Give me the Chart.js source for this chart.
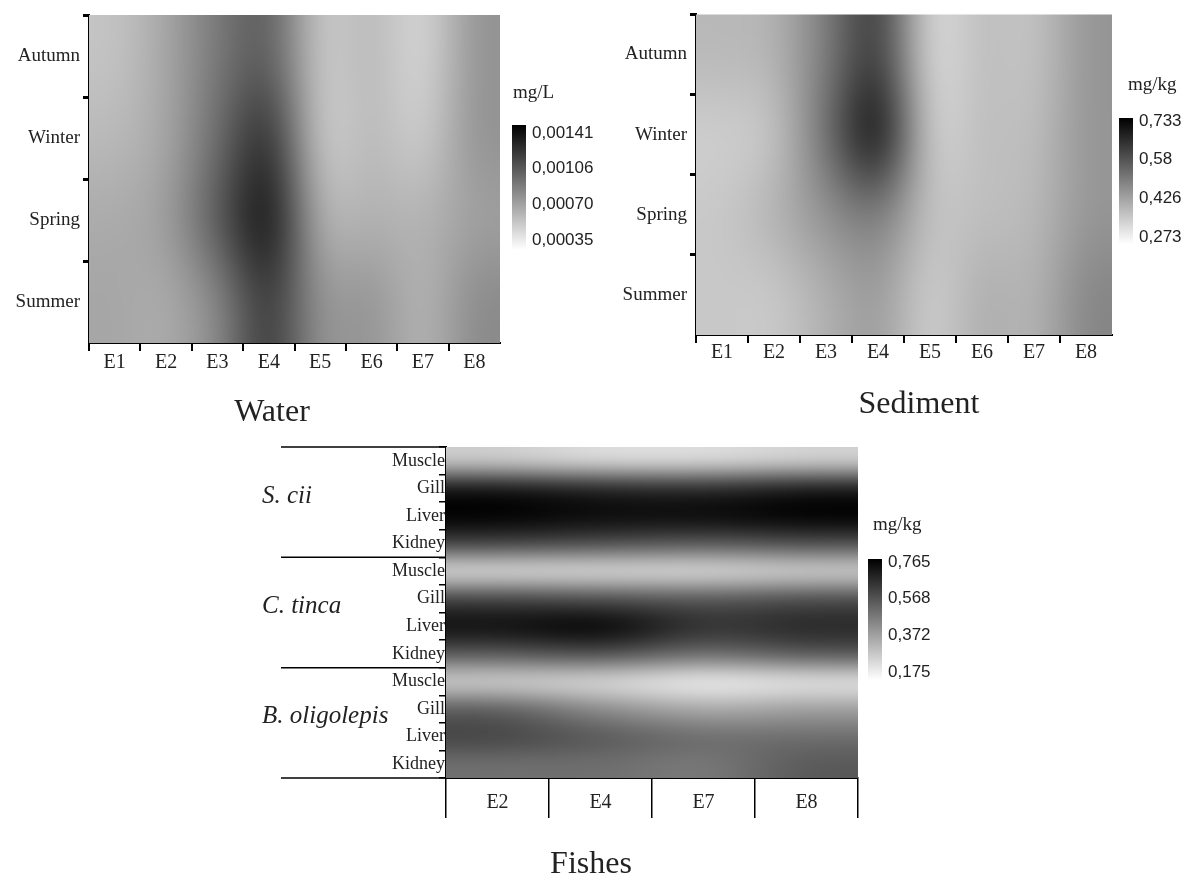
<!DOCTYPE html>
<html><head><meta charset="utf-8">
<script src="https://cdn.jsdelivr.net/npm/chart.js@4.4.1/dist/chart.umd.min.js"></script>
<style>
html,body{margin:0;padding:0;background:#fff;width:1193px;height:880px;overflow:hidden;position:relative}
.box{position:absolute}
</style></head><body>
<div class="box" style="left:0;top:0;width:600px;height:440px"><canvas id="cWater"></canvas></div>
<div class="box" style="left:600px;top:0;width:630px;height:440px"><canvas id="cSed"></canvas></div>
<div class="box" style="left:250px;top:440px;width:700px;height:450px"><canvas id="cFish"></canvas></div>
<script>
// ---------- DATA ----------
const stations = ['E1','E2','E3','E4','E5','E6','E7','E8'];
const seasons = ['Autumn','Winter','Spring','Summer'];

// Water (mg/L)
const waterAutumn = [0.00060,0.00072,0.00091,0.00103,0.00058,0.00064,0.00052,0.00079];
const waterWinter = [0.00064,0.00072,0.00096,0.00122,0.00058,0.00064,0.00056,0.00079];
const waterSpring = [0.00070,0.00075,0.00103,0.00133,0.00068,0.00068,0.00066,0.00075];
const waterSummer = [0.00072,0.00070,0.00085,0.00118,0.00079,0.00079,0.00066,0.00083];
const waterRange = [0.00035, 0.00141];
const waterTicks = ['0,00141','0,00106','0,00070','0,00035'];

// Sediment (mg/kg)
const sedAutumn = [0.399,0.408,0.510,0.630,0.345,0.390,0.381,0.462];
const sedWinter = [0.363,0.381,0.530,0.700,0.363,0.390,0.390,0.462];
const sedSpring = [0.372,0.408,0.470,0.515,0.381,0.390,0.399,0.462];
const sedSummer = [0.372,0.372,0.417,0.453,0.363,0.417,0.408,0.489];
const sedRange = [0.273, 0.733];
const sedTicks = ['0,733','0,58','0,426','0,273'];

// Fishes (mg/kg), columns = fishStations
const fishStations = ['E2','E4','E7','E8'];
const fishSpecies = ['S. cii','C. tinca','B. oligolepis'];
const fishTissues = ['Muscle','Gill','Liver','Kidney'];
const sciiMuscle  = [0.302,0.268,0.268,0.291];
const sciiGill    = [0.707,0.672,0.661,0.696];
const sciiLiver   = [0.765,0.742,0.742,0.765];
const sciiKidney  = [0.603,0.580,0.557,0.580];
const tincaMuscle = [0.268,0.268,0.268,0.291];
const tincaGill   = [0.603,0.580,0.557,0.580];
const tincaLiver  = [0.730,0.753,0.649,0.672];
const tincaKidney = [0.557,0.580,0.510,0.557];
const oligoMuscle = [0.291,0.268,0.221,0.244];
const oligoGill   = [0.545,0.441,0.372,0.395];
const oligoLiver  = [0.603,0.557,0.510,0.510];
const oligoKidney = [0.510,0.510,0.487,0.557];
const fishRange = [0.175, 0.765];
const fishTicks = ['0,765','0,568','0,372','0,175'];

// ---------- HELPERS ----------
function toCells(matrix){
  const out=[];
  matrix.forEach((row,r)=>row.forEach((v,c)=>out.push({x:c,y:r,v:v})));
  return out;
}
const SERIF = '"Liberation Serif","Times New Roman",serif';
const SANS = '"Liberation Sans",Arial,sans-serif';

const heatmapPlugin = {
  id:'heatmap',
  beforeDatasetsDraw(chart, args, opts){
    const xs = chart.scales.x, ys = chart.scales.y;
    const nx = xs.getLabels().length, ny = ys.getLabels().length;
    const data = chart.data.datasets[0].data;
    const grid = [];
    for(let r=0;r<ny;r++){ grid.push(new Array(nx).fill(0)); }
    data.forEach(d=>{ grid[d.y][d.x] = d.v; });
    const off = document.createElement('canvas');
    off.width = nx+2; off.height = ny+2;
    const octx = off.getContext('2d');
    const img = octx.createImageData(nx+2, ny+2);
    const vmin = opts.range[0], vmax = opts.range[1];
    for(let yy=0; yy<ny+2; yy++){
      for(let xx=0; xx<nx+2; xx++){
        const r = Math.min(ny-1, Math.max(0, yy-1));
        const c = Math.min(nx-1, Math.max(0, xx-1));
        let t = (grid[r][c] - vmin)/(vmax - vmin);
        t = Math.max(0, Math.min(1, t));
        const g = Math.round(255*(1-t));
        const i = (yy*(nx+2) + xx)*4;
        img.data[i]=g; img.data[i+1]=g; img.data[i+2]=g; img.data[i+3]=255;
      }
    }
    octx.putImageData(img,0,0);
    const x0 = xs.getPixelForValue(0), x1 = xs.getPixelForValue(nx-1);
    const y0 = ys.getPixelForValue(0), y1 = ys.getPixelForValue(ny-1);
    const cw = (x1-x0)/(nx-1), ch = (y1-y0)/(ny-1);
    const ctx = chart.ctx;
    ctx.save();
    ctx.beginPath();
    ctx.rect(x0-cw/2, y0-ch/2, cw*nx, ch*ny);
    ctx.clip();
    ctx.imageSmoothingEnabled = true;
    ctx.imageSmoothingQuality = 'high';
    ctx.filter = 'blur(' + (Math.min(cw,ch)*opts.soft).toFixed(1) + 'px)';
    ctx.drawImage(off, x0-cw*1.5, y0-ch*1.5, cw*(nx+2), ch*(ny+2));
    ctx.restore();
  }
};

const colorbarPlugin = {
  id:'colorbar',
  afterDraw(chart, args, o){
    const ctx = chart.ctx, R = chart.chartArea.right;
    const bx = R + o.dx;
    ctx.save();
    const grad = ctx.createLinearGradient(0, o.top, 0, o.bottom);
    grad.addColorStop(0, '#000');
    grad.addColorStop(1, '#fff');
    ctx.fillStyle = grad;
    ctx.fillRect(bx, o.top, o.w, o.bottom - o.top);
    ctx.fillStyle = '#222';
    ctx.font = '17px ' + SANS;
    ctx.textAlign = 'left'; ctx.textBaseline = 'middle';
    const n = o.labels.length;
    o.labels.forEach((s,i)=>{
      const y = o.labTop + (o.labBottom - o.labTop)*i/(n-1);
      ctx.fillText(s, bx + o.w + 6, y);
    });
    ctx.font = '19px ' + SERIF;
    ctx.fillText(o.unit, R + o.unitDx, o.unitY);
    ctx.restore();
  }
};

const speciesPlugin = {
  id:'species',
  afterDraw(chart, args, o){
    if(!o.groups) return;
    const ys = chart.scales.y, ctx = chart.ctx;
    const L = chart.chartArea.left;
    const step = ys.getPixelForValue(1) - ys.getPixelForValue(0);
    const per = o.perGroup;
    ctx.save();
    ctx.strokeStyle = '#000'; ctx.lineWidth = 1.5;
    for(let g=0; g<=o.groups.length; g++){
      const y = ys.getPixelForValue(g*per) - step/2;
      ctx.beginPath(); ctx.moveTo(L - 165, y); ctx.lineTo(L, y); ctx.stroke();
    }
    ctx.fillStyle = '#222';
    ctx.font = 'italic 25px ' + SERIF;
    ctx.textAlign = 'left'; ctx.textBaseline = 'middle';
    o.groups.forEach((s,g)=>{
      const yc = (ys.getPixelForValue(g*per) + ys.getPixelForValue(g*per+per-1))/2;
      ctx.fillText(s, L - 184, yc - 6);
    });
    ctx.restore();
  }
};

function lastHidden(hide){
  return (c)=> (hide && (c.type !== 'tick')) ? 'rgba(0,0,0,0)' : '#000';
}
function axisX(labels, opts){
  return {
    type:'category', labels:labels, offset:true,
    grid:{display:true, offset:true, drawOnChartArea:false, drawTicks:true,
      tickLength:opts.tl, lineWidth:opts.lw, color:lastHidden(opts.hideLast)},
    border:{display:true, color:'#000', width:2},
    ticks:{autoSkip:false, maxRotation:0, color:'#222', padding:opts.pad,
      font:{family:SERIF, size:20}},
    afterFit(s){ s.height = opts.h; }
  };
}
function axisY(labels, opts){
  return {
    type:'category', labels:labels, offset:true,
    grid:{display:true, offset:true, drawOnChartArea:false, drawTicks:true,
      tickLength:opts.tl, lineWidth:opts.lw, color:lastHidden(opts.hideLast)},
    border:{display:true, color:'#000', width:2},
    ticks:{autoSkip:false, color:'#222', padding:opts.pad,
      font:{family:SERIF, size:opts.fs}},
    afterFit(s){ s.width = opts.w; }
  };
}
function spacerAxis(range, w){
  return {type:'linear', position:'right', min:range[0], max:range[1], display:true,
    ticks:{display:false}, grid:{display:false}, border:{display:false},
    afterFit(s){ s.width = w; }};
}
function titleOpt(text, pt){
  return {display:true, text:text, position:'bottom', color:'#222',
    font:{family:SERIF, size:32, weight:'normal', lineHeight:1.2},
    padding:{top:pt, bottom:0}};
}
const base = {responsive:true, maintainAspectRatio:false, animation:false, events:[]};

// ---------- WATER ----------
new Chart(document.getElementById('cWater'), {
  type:'scatter',
  data:{datasets:[{data:toCells([waterAutumn,waterWinter,waterSpring,waterSummer]), parsing:false, pointRadius:0}]},
  options:Object.assign({}, base, {
    layout:{padding:{left:10, right:66, top:15, bottom:8.6}},
    scales:{
      x:axisX(stations,{tl:8, lw:2, pad:0, h:40, hideLast:true}),
      y:axisY(seasons,{tl:6, lw:3, pad:3, fs:19, w:79, hideLast:true}),
      cb:spacerAxis(waterRange, 34)
    },
    plugins:{legend:{display:false}, tooltip:{enabled:false},
      title:titleOpt('Water',10),
      heatmap:{range:waterRange, soft:0.28},
      colorbar:{dx:12, w:14, top:125, bottom:250, labTop:133, labBottom:240, labels:waterTicks, unit:'mg/L', unitDx:13, unitY:93}
    }
  }),
  plugins:[heatmapPlugin, colorbarPlugin]
});

// ---------- SEDIMENT ----------
new Chart(document.getElementById('cSed'), {
  type:'scatter',
  data:{datasets:[{data:toCells([sedAutumn,sedWinter,sedSpring,sedSummer]), parsing:false, pointRadius:0}]},
  options:Object.assign({}, base, {
    layout:{padding:{left:15, right:7, top:9, bottom:15.8}},
    scales:{
      x:axisX(stations,{tl:8, lw:2, pad:-2, h:40, hideLast:true}),
      y:axisY(seasons,{tl:6, lw:3, pad:3, fs:19, w:81, hideLast:true}),
      cb:spacerAxis(sedRange, 111)
    },
    plugins:{legend:{display:false}, tooltip:{enabled:false},
      title:titleOpt('Sediment',10.8),
      heatmap:{range:sedRange, soft:0.28},
      colorbar:{dx:7, w:14, top:118, bottom:244, labTop:121, labBottom:237, labels:sedTicks, unit:'mg/kg', unitDx:16, unitY:85}
    }
  }),
  plugins:[heatmapPlugin, colorbarPlugin]
});

// ---------- FISHES ----------
const fishRowLabels = [];
fishSpecies.forEach(()=>fishTissues.forEach(t=>fishRowLabels.push(t)));
new Chart(document.getElementById('cFish'), {
  type:'scatter',
  data:{datasets:[{data:toCells([
    sciiMuscle,sciiGill,sciiLiver,sciiKidney,
    tincaMuscle,tincaGill,tincaLiver,tincaKidney,
    oligoMuscle,oligoGill,oligoLiver,oligoKidney]), parsing:false, pointRadius:0}]},
  options:Object.assign({}, base, {
    layout:{padding:{left:74, right:92, top:7, bottom:5.8}},
    scales:{
      x:axisX(fishStations,{tl:40, lw:1.5, pad:-27, h:40, hideLast:false}),
      y:axisY(fishRowLabels,{tl:7, lw:1.5, pad:-6, fs:18, w:122, hideLast:false})
    },
    plugins:{legend:{display:false}, tooltip:{enabled:false},
      title:titleOpt('Fishes',27.8),
      heatmap:{range:fishRange, soft:0.2},
      species:{groups:fishSpecies, perGroup:fishTissues.length},
      colorbar:{dx:10, w:14, top:119, bottom:240, labTop:122, labBottom:232, labels:fishTicks, unit:'mg/kg', unitDx:15, unitY:85}
    }
  }),
  plugins:[heatmapPlugin, colorbarPlugin, speciesPlugin]
});
</script>
</body></html>
